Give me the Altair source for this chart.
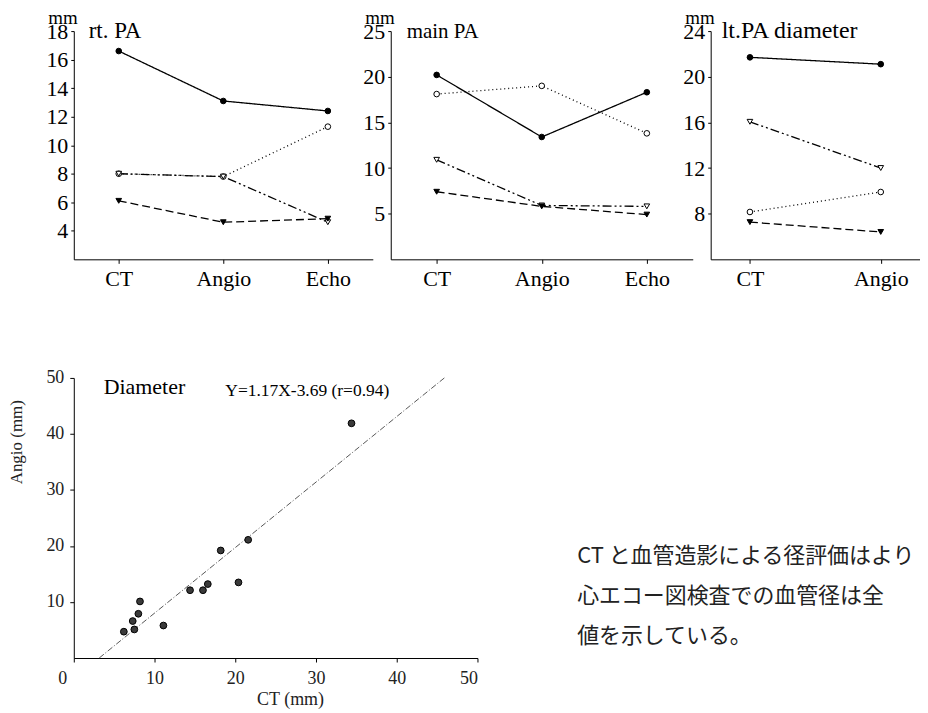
import altair as alt
import pandas as pd

SERIF = "Liberation Serif"

# ---------------- data ----------------
series_names = ["solid", "dotted", "dashdot", "dashed"]

stages3 = ["CT", "Angio", "Echo"]
stages2 = ["CT", "Angio"]

rt_solid = [16.6, 13.1, 12.4]
rt_dotted = [8.0, 7.8, 11.3]
rt_dashdot = [8.0, 7.8, 4.6]
rt_dashed = [6.1, 4.6, 4.85]

main_solid = [20.2, 13.4, 18.3]
main_dotted = [18.1, 19.0, 13.8]
main_dashdot = [10.9, 5.9, 5.8]
main_dashed = [7.4, 5.8, 4.9]

lt_solid = [21.7, 21.1]
lt_dotted = [8.15, 9.9]
lt_dashdot = [16.05, 12.0]
lt_dashed = [7.26, 6.4]

ct_mm = [6.2, 7.3, 7.5, 8.0, 8.2, 11.1, 14.4, 16.0, 16.6, 18.2, 20.4, 21.6, 34.4]
angio_mm = [4.7, 6.6, 5.1, 7.9, 10.1, 5.8, 12.1, 12.1, 13.2, 19.2, 13.5, 21.1, 41.9]

fit_ct = [3.15, 45.9]
fit_angio = [0.0, 50.0]

equation = "Y=1.17X-3.69 (r=0.94)"
jp_lines = ["CT と血管造影による径評価はより", "心エコー図検査での血管径は全", "値を示している。"]

# ---------------- styles ----------------
dash_range = [[1, 0], [1, 3], [9, 3, 2, 3, 2, 3], [8, 4]]
shape_range = ["circle", "circle", "triangle-down", "triangle-down"]
fill_range = ["black", "white", "white", "black"]


def text_layer(txt, x, y, size, align="left", baseline="alphabetic", font=SERIF, **kw):
    return alt.Chart(pd.DataFrame({"t": [txt]})).mark_text(
        font=font, fontSize=size, align=align, baseline=baseline, color="black", **kw
    ).encode(x=alt.value(x), y=alt.value(y), text="t:N")


def panel(stages, vals, domain, ticks, title, width, pad, title_x, title_size):
    rows = []
    for s, vv in zip(series_names, vals):
        for i, (st, v) in enumerate(zip(stages, vv)):
            rows.append({"stage": st, "value": v, "series": s, "idx": i})
    df = pd.DataFrame(rows)
    xenc = alt.X(
        "stage:N", sort=stages,
        scale=alt.Scale(type="point", domain=stages, padding=pad),
        axis=alt.Axis(title=None, labelAngle=0, labelFont=SERIF, labelFontSize=22,
                      labelColor="black", labelPadding=5, tickSize=4,
                      domainColor="black", tickColor="black", grid=False),
    )
    yenc = alt.Y(
        "value:Q",
        scale=alt.Scale(domain=domain, nice=False, zero=False),
        axis=alt.Axis(values=ticks, title=None, labelFont=SERIF, labelFontSize=22,
                      labelColor="black", tickSize=3, grid=False, domainColor="black",
                      tickColor="black", labelPadding=3),
    )
    base = alt.Chart(df).encode(x=xenc, y=yenc)
    line = base.mark_line(color="black", strokeWidth=1.3).encode(
        strokeDash=alt.StrokeDash("series:N", scale=alt.Scale(domain=series_names, range=dash_range), legend=None),
        order=alt.Order("idx:Q"),
    )
    pts = base.mark_point(filled=True, stroke="black", strokeWidth=1, opacity=1, size=32).encode(
        shape=alt.Shape("series:N", scale=alt.Scale(domain=series_names, range=shape_range), legend=None),
        fill=alt.Fill("series:N", scale=alt.Scale(domain=series_names, range=fill_range), legend=None),
    )
    mm = text_layer("mm", 4, -7, 19, align="right")
    ttl = text_layer(title, title_x, 7, title_size)
    return alt.layer(line, pts, mm, ttl).properties(width=width, height=229)


p1 = panel(stages3, [rt_solid, rt_dotted, rt_dashdot, rt_dashed], [2, 18],
           [4, 6, 8, 10, 12, 14, 16, 18], "rt. PA", 300, 0.43, 15, 23)
p2 = panel(stages3, [main_solid, main_dotted, main_dashdot, main_dashed], [0, 25],
           [5, 10, 15, 20, 25], "main PA", 303, 0.437, 16, 21)
p3 = panel(stages2, [lt_solid, lt_dotted, lt_dashdot, lt_dashed], [4, 24],
           [8, 12, 16, 20, 24], "lt.PA diameter", 210, 0.3, 11, 24)

# ---------------- scatter ----------------
sc_df = pd.DataFrame({"ct": ct_mm, "angio": angio_mm})
fit_df = pd.DataFrame({"ct": fit_ct, "angio": fit_angio})

xs = alt.X("ct:Q", scale=alt.Scale(domain=[0, 50], nice=False, range=[0, 405]),
           axis=alt.Axis(values=[0, 10, 20, 30, 40, 50], title="CT (mm)", grid=False,
                         labelFont=SERIF, labelFontSize=18, labelColor="#222", labelPadding=8,
                         labelOffset={"condition": {"test": "datum.value === 0", "value": -16}, "value": 0},
                         tickSize=4, domainColor="black", tickColor="black",
                         titleFont=SERIF, titleFontSize=18, titleFontWeight="normal",
                         titleColor="#222", titlePadding=3, titleX=217, titleAnchor="middle"))
ys = alt.Y("angio:Q", scale=alt.Scale(domain=[0, 50], nice=False),
           axis=alt.Axis(values=[10, 20, 30, 40, 50], title="Angio (mm)", grid=False,
                         labelFont=SERIF, labelFontSize=18, labelColor="#222", labelPadding=6,
                         tickSize=4, domainColor="black", tickColor="black",
                         titleFont=SERIF, titleFontSize=17, titleFontWeight="normal",
                         titleColor="#222", titleX=-48, titleY=64, titleAngle=-90,
                         titleAlign="center", titleBaseline="bottom"))

fit_line = alt.Chart(fit_df).mark_line(color="#444", strokeWidth=0.9, strokeDash=[6, 2, 1, 2]).encode(
    x=xs, y=ys)
sc_pts = alt.Chart(sc_df).mark_circle(size=46, color="#3a3a3a", stroke="black", strokeWidth=1, opacity=1).encode(
    x="ct:Q", y="angio:Q")
diam = text_layer("Diameter", 30, 16, 22)
eq = text_layer(equation, 152, 18, 17.5)
jp = alt.Chart(pd.DataFrame({"t": ["\n".join(jp_lines)]})).mark_text(
    font="Noto Sans CJK JP", fontSize=22, align="left", baseline="middle", color="#222",
    lineBreak="\n", lineHeight=40,
).encode(x=alt.value(505), y=alt.value(179), text="t:N")

scatter = alt.layer(fit_line, sc_pts, diam, eq, jp).properties(width=300, height=281)

chart = alt.concat(p1, p2, p3, scatter, columns=3).properties(
    padding={"left": 0, "top": 0, "right": 0, "bottom": 0},
    background="white",
    spacing={"row": 119, "column": 18},
    bounds="flush",
).configure_view(stroke=None)

chart.save("out.html", embed_options={"renderer": "svg", "actions": False})
